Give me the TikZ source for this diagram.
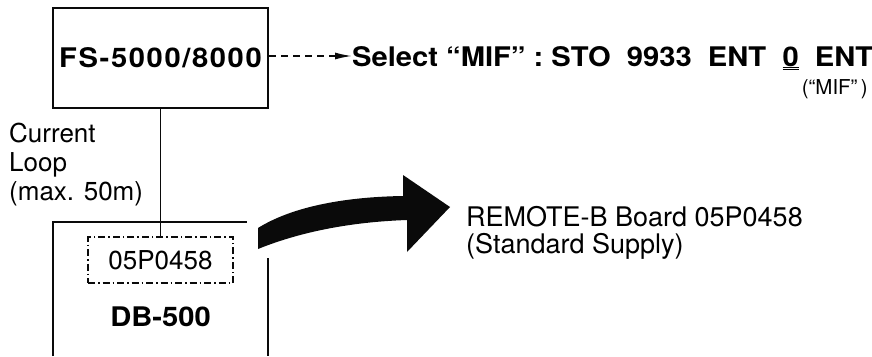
\documentclass[tikz,border=0pt]{standalone}
\usepackage{fontspec}
\setmainfont{TeX Gyre Heros}[BoldFeatures={FakeStretch=1.08}]
\usepackage{tikz}
\usetikzlibrary{arrows.meta, positioning}
\definecolor{inkBlack}{RGB}{10,10,10}
\newcommand{\dblul}[1]{\underline{\underline{#1}}}

\begin{document}
\begin{tikzpicture}[x=1pt, y=-1pt,
  unitbox/.style={draw=inkBlack, line width=2.6pt, inner sep=0pt},
  boardbox/.style={draw=inkBlack, line width=1.4pt, dash pattern=on 7pt off 3pt on 1.5pt off 3pt,
    minimum width=145pt, minimum height=46pt, inner sep=0pt},
  bigfont/.style={font=\fontsize{27}{32}\selectfont\bfseries},
  txtfont/.style={font=\fontsize{26}{29}\selectfont},
  ]
  \useasboundingbox (0,0) rectangle (872,356);

  % FS unit and the setting to select
  \node[unitbox, font=\fontsize{27}{32}\selectfont\bfseries\addfontfeature{LetterSpace=6},
    minimum width=215pt, minimum height=100pt] (fs) at (160.5,58) {FS-5000/8000};
  \node[bigfont, anchor=west, inner sep=0pt, text height=20pt, text depth=0pt] (sel) at (352,56)
    {Select “MIF” :\ STO\ \ 9933\ \ ENT\ \ \dblul{0}\ \ ENT};
  \node[font=\fontsize{20.5}{22}\selectfont, anchor=north east, inner sep=0pt] (mif) at (868,79) {(“MIF”\,)};
  \draw[inkBlack, line width=1.5pt, dash pattern=on 7pt off 5pt, -{Latex[length=17pt, width=7pt]}]
    (fs.east |- sel.west) -- (sel.west);

  % current loop
  \node[txtfont, align=left, anchor=north west, inner sep=0pt] (loop) at (9,123) {Current\\Loop\\(max. 50m)};
  \node[boardbox, txtfont] (board) at (160.5,260) {05P0458};
  \draw[inkBlack, line width=1.3pt] (fs.south) -- (board.north);

  % DB-500 housing, open at the bottom
  \node[bigfont] (db) at (160.5,317) {DB-500};
  \draw[inkBlack, line width=2.6pt] (53,356) -- (53,222) -- (247,222);
  \draw[inkBlack, line width=2.6pt] (268,258) -- (268,356);

  % big curved arrow to the board note
  \fill[inkBlack] (258,228) .. controls (290,208) and (340,197) .. (403,196) -- (403,175) -- (450,207)
    -- (407,252) -- (407,220) .. controls (350,222) and (300,232) .. (258,249) -- cycle;
  \node[font=\fontsize{27}{27}\selectfont, align=left, anchor=north west, inner sep=0pt] (remote) at (466,206)
    {REMOTE-B Board 05P0458\\(Standard Supply)};
\end{tikzpicture}
\end{document}
